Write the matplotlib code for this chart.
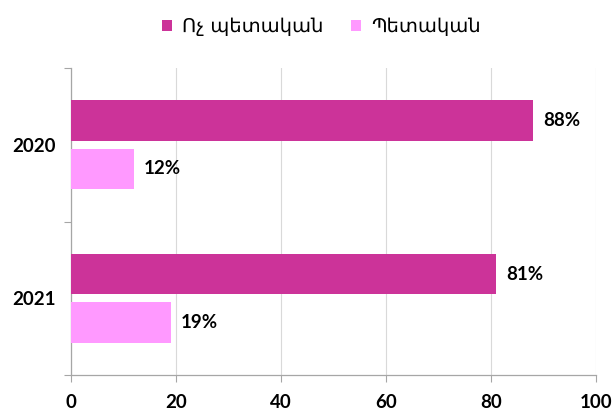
import matplotlib
matplotlib.use("Agg")
import matplotlib.pyplot as plt
import numpy as np

# data
years = ["2020", "2021"]
non_state = [88, 81]
state = [12, 19]
series_names = ["Ոչ պետական", "Պետական"]
x_ticks = [0, 20, 40, 60, 80, 100]

num_font = ["Lato", "DejaVu Sans"]
arm_font = ["DejaVu Sans"]
fs = 13.5

fig = plt.figure(figsize=(6.12, 4.16), dpi=100)
ax = fig.add_axes([71 / 612, 1 - 375 / 416, (596 - 71) / 612, (375 - 68) / 416])

y = np.arange(len(years))
off = 0.157
h = 0.265
b1 = ax.barh(y - off, non_state, height=h, color="#CC3399", label=series_names[0], zorder=3)
b2 = ax.barh(y + off, state, height=h, color="#FF99FF", label=series_names[1], zorder=3)

for bars, vals in ((b1, non_state), (b2, state)):
    for bar, v in zip(bars, vals):
        ax.text(bar.get_width() + 1.9, bar.get_y() + bar.get_height() / 2, f"{v}%",
                va="center", ha="left", fontsize=fs, fontweight="bold", family=num_font)

ax.set_xlim(0, 100)
ax.set_ylim(len(years) - 0.5, -0.5)
ax.set_xticks(x_ticks)
ax.set_xticklabels([str(t) for t in x_ticks], fontsize=fs, fontweight="bold", family=num_font)
ax.set_yticks([-0.5, 0.5, 1.5])
ax.set_yticklabels([])
ax.set_yticks(y, minor=True)
ax.set_yticklabels(years, minor=True, fontsize=fs, fontweight="bold", family=num_font)
ax.tick_params(axis="y", which="minor", length=0, pad=11)
ax.tick_params(axis="y", which="major", length=5, color="#A6A6A6")
ax.tick_params(axis="x", length=5, color="#A6A6A6", pad=9)

ax.grid(axis="x", color="#D9D9D9", linewidth=0.8, zorder=0)
for s in ("top", "right"):
    ax.spines[s].set_visible(False)
for s in ("left", "bottom"):
    ax.spines[s].set_color("#A6A6A6")
    ax.spines[s].set_linewidth(0.9)

fig.legend(handles=[b1, b2], labels=series_names, loc="upper center",
           bbox_to_anchor=(0.525, 1.0), ncol=2, frameon=False,
           prop={"family": arm_font, "size": 14},
           handlelength=0.55, handleheight=0.55, handletextpad=0.5, columnspacing=1.4)

fig.savefig("out.png", dpi=100)
